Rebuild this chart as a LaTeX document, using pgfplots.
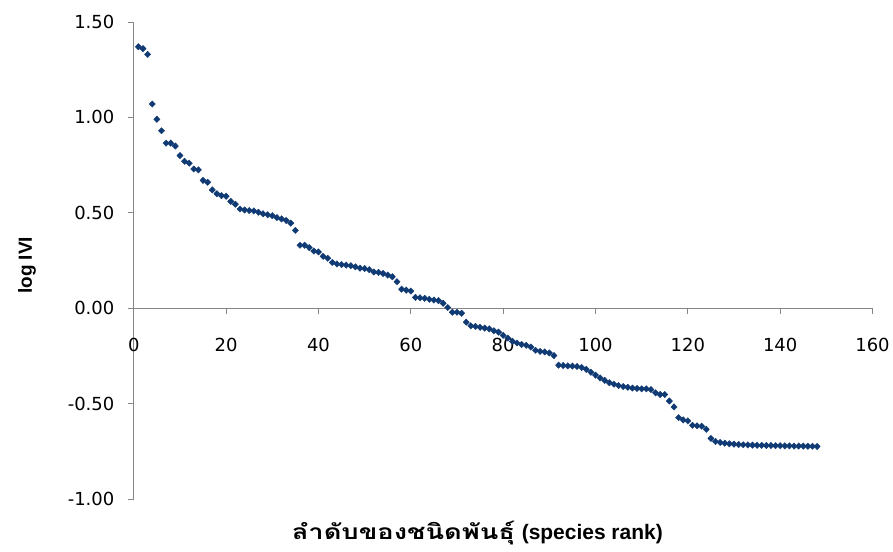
\documentclass[border=0pt]{standalone}
\usepackage{pgfplots}
\pgfplotsset{compat=1.18}
\usepackage{fontspec}
\setmainfont{DejaVu Sans}
\newfontfamily\labfont{Liberation Sans}
\newfontfamily\thaifont[Script=Thai, FakeStretch=1.3]{Loma}
\definecolor{axgray}{RGB}{134,134,134}
\definecolor{mkblue}{RGB}{16,58,115}
\pgfplotstableread{
r v
1 1.37
2 1.36
3 1.33
4 1.07
5 0.99
6 0.93
7 0.865
8 0.865
9 0.85
10 0.80
11 0.77
12 0.76
13 0.73
14 0.725
15 0.67
16 0.66
17 0.62
18 0.60
19 0.59
20 0.587
21 0.56
22 0.545
23 0.52
24 0.515
25 0.512
26 0.51
27 0.503
28 0.495
29 0.49
30 0.485
31 0.475
32 0.468
33 0.46
34 0.446
35 0.408
36 0.33
37 0.33
38 0.318
39 0.30
40 0.295
41 0.272
42 0.262
43 0.24
44 0.232
45 0.229
46 0.226
47 0.223
48 0.217
49 0.21
50 0.208
51 0.202
52 0.19
53 0.188
54 0.182
55 0.174
56 0.165
57 0.139
58 0.10
59 0.095
60 0.09
61 0.057
62 0.055
63 0.052
64 0.047
65 0.043
66 0.04
67 0.026
68 0.004
69 -0.021
70 -0.021
71 -0.026
72 -0.073
73 -0.092
74 -0.095
75 -0.10
76 -0.104
77 -0.108
78 -0.118
79 -0.125
80 -0.142
81 -0.156
82 -0.173
83 -0.182
84 -0.19
85 -0.194
86 -0.203
87 -0.22
88 -0.226
89 -0.229
90 -0.234
91 -0.248
92 -0.298
93 -0.30
94 -0.302
95 -0.303
96 -0.305
97 -0.31
98 -0.32
99 -0.335
100 -0.35
101 -0.365
102 -0.378
103 -0.39
104 -0.398
105 -0.405
106 -0.41
107 -0.414
108 -0.418
109 -0.42
110 -0.422
111 -0.422
112 -0.426
113 -0.443
114 -0.452
115 -0.452
116 -0.486
117 -0.517
118 -0.573
119 -0.585
120 -0.59
121 -0.613
122 -0.616
123 -0.618
124 -0.634
125 -0.682
126 -0.698
127 -0.703
128 -0.707
129 -0.710
130 -0.712
131 -0.714
132 -0.715
133 -0.716
134 -0.717
135 -0.718
136 -0.718
137 -0.719
138 -0.719
139 -0.72
140 -0.72
141 -0.721
142 -0.721
143 -0.722
144 -0.722
145 -0.722
146 -0.723
147 -0.723
148 -0.724
}\datatable
\begin{document}
\begin{tikzpicture}
\begin{axis}[
  scale only axis,
  width=740pt, height=478pt,
  xmin=0, xmax=160, ymin=-1, ymax=1.5,
  axis x line*=middle, axis y line*=left,
  hide obscured x ticks=false,
  axis line style={-, draw=axgray, line width=0.8pt},
  xtick={0,20,...,160}, ytick={-1,-0.5,...,1.5},
  tick align=outside, major tick length=6pt,
  tick style={axgray, line width=0.8pt},
  /pgf/number format/assume math mode=true,
  font=\fontsize{18}{20}\selectfont,
  yticklabel style={xshift=-10pt, /pgf/number format/.cd, fixed, fixed zerofill, precision=2},
  xticklabel style={yshift=-20pt},
  clip=false,
  xlabel={{\thaifont\bfseries ลำดับของชนิดพันธุ์} {\labfont\bfseries (species rank)}},
  ylabel={\labfont\bfseries log IVI},
  xlabel style={at={(axis description cs:0.465,-0.072)}, anchor=center, font=\fontsize{21}{24}\selectfont},
  ylabel style={at={(axis description cs:-0.1446,0.49)}, anchor=center, font=\fontsize{19}{22}\selectfont},
]
\addplot[only marks, mark=diamond*, mark size=3.2pt, mark options={xscale=1.3}, color=mkblue] table[x=r, y=v] {\datatable};
\path (rel axis cs:-0.1811,-0.1088) rectangle (rel axis cs:1.0257,1.046);
\end{axis}
\end{tikzpicture}
\end{document}
